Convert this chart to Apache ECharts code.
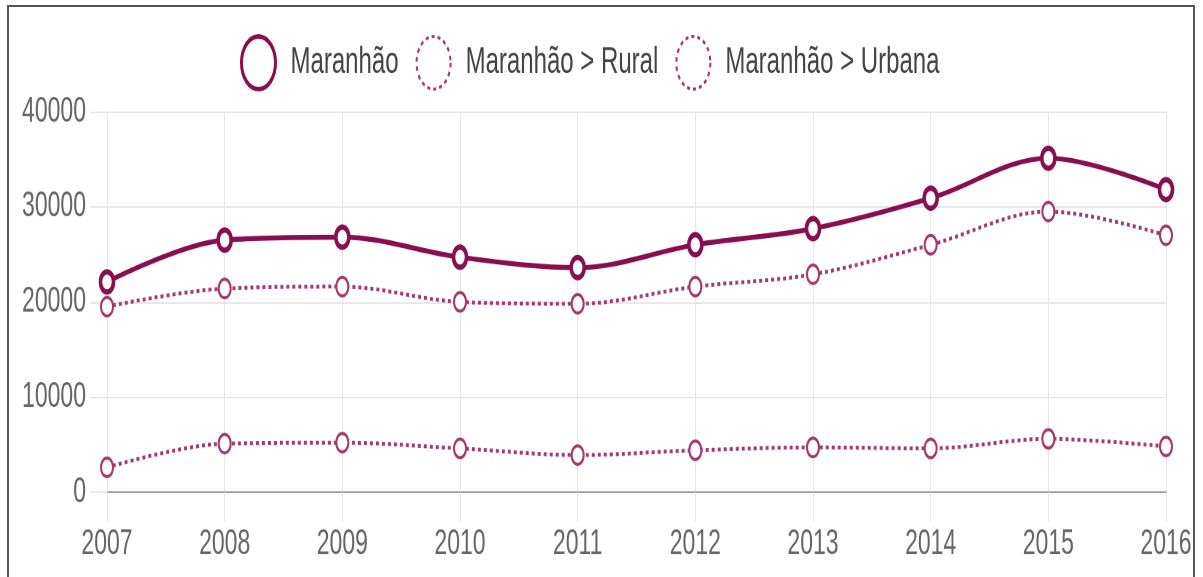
<!DOCTYPE html>
<html>
<head>
<meta charset="utf-8">
<script src="https://cdn.jsdelivr.net/npm/echarts@6/dist/echarts.min.js"></script>
<style>
  html, body { margin: 0; padding: 0; background: #fff; overflow: hidden; }
  #frame {
    position: absolute; left: 7px; top: 5px; width: 1188px; height: 620px;
    border: 2px solid #555; box-sizing: border-box;
  }
  /* the source picture is stretched vertically, so draw flat and stretch */
  #chart {
    position: absolute; left: 0; top: 0; width: 1203px; height: 372px;
    transform: scaleY(1.55); transform-origin: 0 0;
  }
</style>
</head>
<body>
<div id="frame"></div>
<div id="chart"></div>
<script>
var years = ['2007', '2008', '2009', '2010', '2011', '2012', '2013', '2014', '2015', '2016'];
var maranhao = [22100, 26500, 26800, 24700, 23600, 26000, 27700, 30900, 35100, 31800];
var rural = [19500, 21400, 21600, 20000, 19800, 21600, 22900, 26000, 29500, 27000];
var urbana = [2600, 5100, 5200, 4600, 3900, 4400, 4700, 4600, 5600, 4800];

var mainColor = '#880e4f';
var subColor = '#a4386f';
var font = "'Liberation Sans', Arial, sans-serif";

var chart = echarts.init(document.getElementById('chart'), null, { devicePixelRatio: 2 });

chart.setOption({
  animation: false,
  legend: {
    top: 17,
    left: 235,
    itemWidth: 34,
    itemHeight: 34,
    itemGap: 17,
    icon: 'circle',
    textStyle: { fontFamily: font, fontSize: 24, color: '#444', padding: [0, 0, 0, 10] },
    data: [
      { name: 'Maranhão', itemStyle: { color: '#fff', borderColor: mainColor, borderWidth: 3 } },
      { name: 'Maranhão > Rural', itemStyle: { color: '#fff', borderColor: subColor, borderWidth: 2, borderType: [3, 3] } },
      { name: 'Maranhão > Urbana', itemStyle: { color: '#fff', borderColor: subColor, borderWidth: 2, borderType: [3, 3] } }
    ]
  },
  grid: { left: 107, right: 37, top: 72, bottom: 54.5, containLabel: false },
  xAxis: {
    type: 'category',
    data: years,
    boundaryGap: false,
    axisLine: { lineStyle: { color: '#999', width: 1 } },
    axisTick: { show: true, length: 19, lineStyle: { color: '#e6e6e6' } },
    axisLabel: { fontFamily: font, fontSize: 23, color: '#666', margin: 22 },
    splitLine: { show: true, lineStyle: { color: '#e6e6e6' } }
  },
  yAxis: {
    type: 'value',
    min: 0,
    max: 40000,
    interval: 10000,
    axisLine: { show: true, lineStyle: { color: '#e6e6e6' } },
    axisTick: { show: true, length: 17, lineStyle: { color: '#e6e6e6' } },
    axisLabel: {
      fontFamily: font, fontSize: 23, color: '#666', margin: 21,
      formatter: function (v) { return String(v); }
    },
    splitLine: { lineStyle: { color: '#e6e6e6' } }
  },
  series: [
    {
      name: 'Maranhão',
      type: 'line',
      data: maranhao,
      smooth: 0.35,
      symbol: 'circle',
      symbolSize: 13,
      lineStyle: { color: mainColor, width: 3.2 },
      itemStyle: { color: '#fff', borderColor: mainColor, borderWidth: 3.5 },
      z: 3
    },
    {
      name: 'Maranhão > Rural',
      type: 'line',
      data: rural,
      smooth: 0.35,
      symbol: 'circle',
      symbolSize: 12,
      lineStyle: { color: subColor, width: 2.5, type: [3, 3] },
      itemStyle: { color: '#fff', borderColor: subColor, borderWidth: 2 }
    },
    {
      name: 'Maranhão > Urbana',
      type: 'line',
      data: urbana,
      smooth: 0.35,
      symbol: 'circle',
      symbolSize: 12,
      lineStyle: { color: subColor, width: 2.5, type: [3, 3] },
      itemStyle: { color: '#fff', borderColor: subColor, borderWidth: 2 }
    }
  ]
});
</script>
</body>
</html>
